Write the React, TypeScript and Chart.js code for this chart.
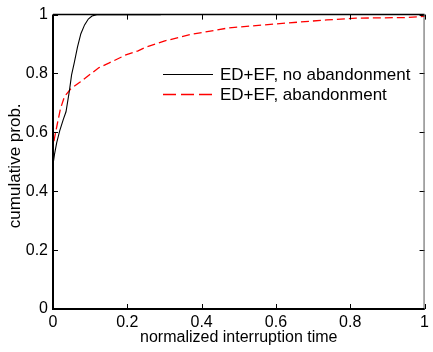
import React, { useEffect, useRef } from 'react';
import { Chart, registerables } from 'chart.js';

Chart.register(...registerables);

// ---- data ----
const seriesNames = ['ED+EF, no abandonment', 'ED+EF, abandonment'];

const noAbandonX = [0, 0, 0.004, 0.01, 0.018, 0.028, 0.035, 0.044, 0.05, 0.057, 0.066, 0.075, 0.085, 0.095, 0.105, 0.118, 0.29];
const noAbandonY = [0, 0.49, 0.525, 0.565, 0.605, 0.645, 0.67, 0.74, 0.795, 0.835, 0.89, 0.935, 0.965, 0.985, 0.995, 1, 1];

const abandonX = [0, 0, 0.004, 0.011, 0.02, 0.031, 0.048, 0.074, 0.105, 0.124, 0.15, 0.194, 0.229, 0.247, 0.299, 0.369, 0.396, 0.474, 0.597, 0.737, 0.816, 0.947, 1.0];
const abandonY = [0, 0.55, 0.58, 0.625, 0.68, 0.722, 0.748, 0.772, 0.802, 0.82, 0.835, 0.862, 0.877, 0.888, 0.91, 0.932, 0.938, 0.955, 0.968, 0.982, 0.988, 0.99, 0.994];

const xTickValues = [0, 0.2, 0.4, 0.6, 0.8, 1];
const xTickLabels = ['0', '0.2', '0.4', '0.6', '0.8', '1'];
const yTickValues = [0, 0.2, 0.4, 0.6, 0.8, 1];
const yTickLabels = ['0', '0.2', '0.4', '0.6', '0.8', '1'];

const xAxisTitle = 'normalized interruption time';
const yAxisTitle = 'cumulative prob.';

const FONT = '"Liberation Sans", Arial, Helvetica, sans-serif';

const toPoints = (xs: number[], ys: number[]) => xs.map((x, i) => ({ x, y: ys[i] }));

const framePlugin = {
  id: 'matlabFrame',
  afterDatasetsDraw(chart: any) {
    const { ctx, chartArea, scales } = chart;
    const { left, right, top, bottom } = chartArea;
    ctx.save();
    ctx.strokeStyle = '#000';
    ctx.lineWidth = 1;
    const tl = 5;
    xTickValues.forEach((v) => {
      const px = Math.round(scales.x.getPixelForValue(v)) + 0.5;
      ctx.beginPath();
      ctx.moveTo(px, bottom);
      ctx.lineTo(px, bottom - tl);
      ctx.moveTo(px, top);
      ctx.lineTo(px, top + tl);
      ctx.stroke();
    });
    yTickValues.forEach((v) => {
      const py = Math.round(scales.y.getPixelForValue(v)) + 0.5;
      ctx.beginPath();
      ctx.moveTo(left, py);
      ctx.lineTo(left + tl, py);
      ctx.moveTo(right, py);
      ctx.lineTo(right - tl, py);
      ctx.stroke();
    });
    // top
    ctx.lineWidth = 1.5;
    ctx.beginPath();
    ctx.moveTo(left, top);
    ctx.lineTo(right, top);
    ctx.stroke();
    // right
    ctx.strokeStyle = '#555';
    ctx.lineWidth = 1;
    ctx.beginPath();
    ctx.moveTo(right - 0.5, top);
    ctx.lineTo(right - 0.5, bottom);
    ctx.stroke();
    // bottom + left
    ctx.strokeStyle = '#000';
    ctx.lineWidth = 2;
    ctx.beginPath();
    ctx.moveTo(left, top);
    ctx.lineTo(left, bottom);
    ctx.lineTo(right, bottom);
    ctx.stroke();
    ctx.restore();
  },
};

const legendPlugin = {
  id: 'matlabLegend',
  afterDraw(chart: any) {
    const { ctx, chartArea } = chart;
    const ds = chart.data.datasets;
    ctx.save();
    // y-axis title (rotated), centred slightly below the axis middle as in the reference
    ctx.font = `17px ${FONT}`;
    ctx.fillStyle = '#000';
    ctx.translate(15.5, (chartArea.top + chartArea.bottom) / 2 + 4);
    ctx.rotate(-Math.PI / 2);
    ctx.textAlign = 'center';
    ctx.textBaseline = 'middle';
    ctx.fillText(yAxisTitle, 0, 0);
    ctx.setTransform(1, 0, 0, 1, 0, 0);

    ctx.font = `17px ${FONT}`;
    ctx.textBaseline = 'alphabetic';
    ctx.textAlign = 'left';
    const rows = [
      { ly: 74, ty: 80 },
      { ly: 94, ty: 100 },
    ];
    rows.forEach((r, i) => {
      const d = ds[i];
      ctx.strokeStyle = d.borderColor;
      ctx.lineWidth = d.borderWidth;
      ctx.setLineDash(i === 1 ? [13, 5] : []);
      ctx.beginPath();
      ctx.moveTo(163, r.ly + 0.5);
      ctx.lineTo(213, r.ly + 0.5);
      ctx.stroke();
      ctx.setLineDash([]);
      ctx.fillText(seriesNames[i], 220, r.ty);
    });
    ctx.restore();
  },
};

export default function App() {
  const canvasRef = useRef<HTMLCanvasElement | null>(null);

  useEffect(() => {
    if (!canvasRef.current) return;
    const chart = new Chart(canvasRef.current, {
      type: 'scatter',
      data: {
        datasets: [
          {
            label: seriesNames[0],
            data: toPoints(noAbandonX, noAbandonY),
            showLine: true,
            borderColor: '#000000',
            borderWidth: 1.1,
            pointRadius: 0,
            tension: 0,
            clip: 4,
          },
          {
            label: seriesNames[1],
            data: toPoints(abandonX, abandonY),
            showLine: true,
            borderColor: '#ff0000',
            borderWidth: 1.3,
            borderDash: [8, 4],
            pointRadius: 0,
            tension: 0,
            clip: 4,
          },
        ],
      },
      options: {
        animation: false,
        responsive: false,
        devicePixelRatio: 1,
        layout: { padding: { top: 11, right: 1, left: 0, bottom: 0 }, autoPadding: false },
        plugins: { legend: { display: false }, tooltip: { enabled: false } },
        scales: {
          x: {
            type: 'linear',
            min: 0,
            max: 1,
            afterFit: (s: any) => { s.height = 43; },
            afterBuildTicks: (s: any) => { s.ticks = xTickValues.map((v) => ({ value: v })); },
            grid: { display: false, drawTicks: false },
            border: { display: false },
            ticks: {
              autoSkip: false,
              maxRotation: 0,
              padding: 4,
              color: '#000',
              font: { family: FONT, size: 16 },
              callback: (_v: any, i: number) => xTickLabels[i],
            },
            title: {
              display: true,
              text: xAxisTitle,
              color: '#000',
              font: { family: FONT, size: 16 },
              padding: { top: 0, bottom: 5 },
            },
          },
          y: {
            type: 'linear',
            min: 0,
            max: 1,
            afterFit: (s: any) => { s.width = 53; },
            afterBuildTicks: (s: any) => { s.ticks = yTickValues.map((v) => ({ value: v })); },
            grid: { display: false, drawTicks: false },
            border: { display: false },
            ticks: {
              autoSkip: false,
              padding: 5,
              color: '#000',
              font: { family: FONT, size: 16 },
              callback: (_v: any, i: number) => yTickLabels[i],
            },
            title: { display: false },
          },
        },
      },
      plugins: [framePlugin, legendPlugin],
    });
    return () => chart.destroy();
  }, []);

  return (
    <div style={{ position: 'absolute', left: 0, top: 0, width: 433, height: 352, background: '#fff' }}>
      <canvas ref={canvasRef} width={433} height={352} style={{ width: 433, height: 352, display: 'block' }} />
    </div>
  );
}
